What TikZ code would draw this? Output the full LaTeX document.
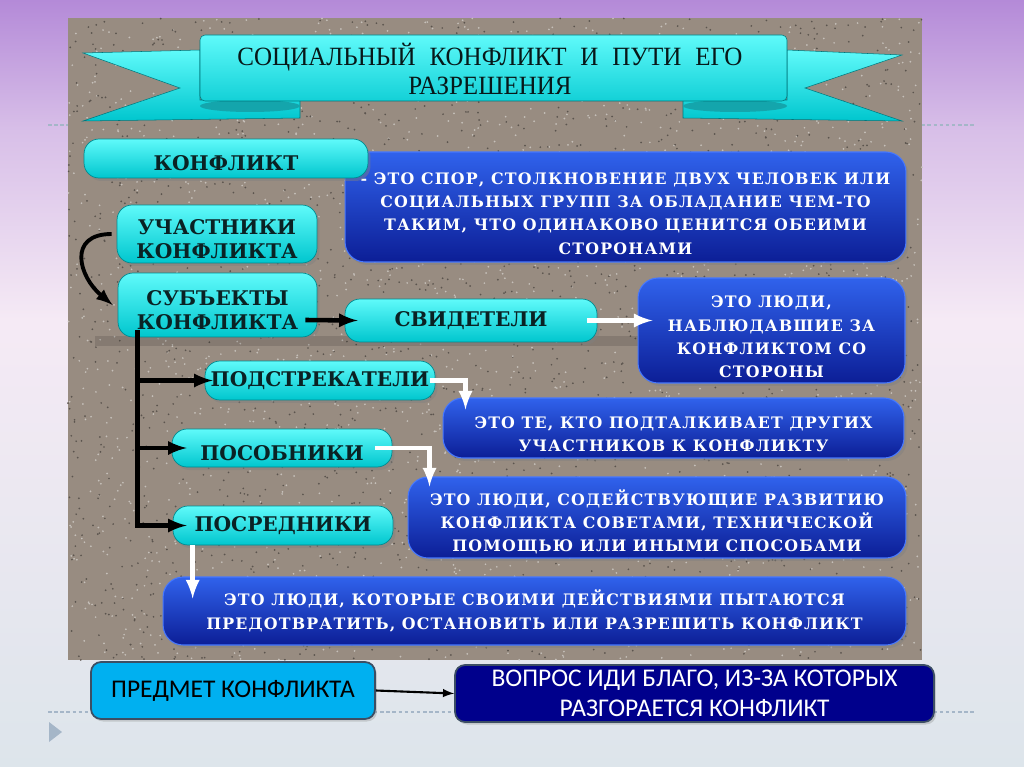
\documentclass[tikz,border=0pt]{standalone}
\usepackage{fontspec}
\setmainfont{DejaVu Serif}
\newfontfamily\boxfont[LetterSpace=7.5]{DejaVu Serif}
\newfontfamily\aquafont{DejaVu Serif}
\newfontfamily\titlefont[WordSpace=2.2, FakeStretch=0.95]{Liberation Serif}
\newfontfamily\slidefont{Carlito}
\usetikzlibrary{arrows, shadows, calc}

\definecolor{slidetop}{RGB}{180,138,216}
\definecolor{slidemid}{RGB}{245,234,245}
\definecolor{slidebot}{RGB}{221,229,235}
\definecolor{sand}{RGB}{152,140,129}
\definecolor{aquatop}{RGB}{95,250,250}
\definecolor{aquabot}{RGB}{0,198,206}
\definecolor{aquaink}{RGB}{10,34,36}
\definecolor{foldteal}{RGB}{20,165,172}
\definecolor{royaltop}{RGB}{48,98,236}
\definecolor{royalbot}{RGB}{12,30,150}
\definecolor{royalrim}{RGB}{70,120,255}
\definecolor{skybox}{RGB}{0,176,240}
\definecolor{navybox}{RGB}{0,0,140}
\definecolor{boxrim}{RGB}{60,78,100}
\definecolor{dashgray}{RGB}{165,182,200}

\newcommand{\facestrut}{\rule{0pt}{14pt}}

\tikzset{
  aqua/.style={rounded corners=0.3cm, top color=aquatop, bottom color=aquabot,
    draw=aquabot!70!black, line width=0.4pt, text=aquaink, inner sep=0pt, align=center,
    font=\aquafont\bfseries\fontsize{11.5}{13.5}\selectfont,
    drop shadow={shadow xshift=0.05cm, shadow yshift=-0.06cm, opacity=0.45}},
  royal/.style={rounded corners=0.4cm, top color=royaltop, bottom color=royalbot,
    draw=royalrim, line width=0.6pt, text=white, inner sep=0pt, align=center,
    font=\boxfont\bfseries\fontsize{9}{13.3}\selectfont,
    drop shadow={shadow xshift=0.05cm, shadow yshift=-0.06cm, opacity=0.45}},
  plainbox/.style={rounded corners=0.2cm, draw=boxrim, line width=1pt, inner sep=0pt,
    align=center, font=\slidefont\fontsize{14.5}{17}\selectfont,
    drop shadow={shadow xshift=0.04cm, shadow yshift=-0.05cm, opacity=0.3}},
  blackline/.style={line width=2.8pt, black},
  blackarrow/.style={-latex, line width=2.6pt, black},
  whitearrow/.style={-latex, line width=2.6pt, white},
}

\begin{document}
\begin{tikzpicture}[x=0.02cm, y=-0.02cm]
  \useasboundingbox (0,0) rectangle (1024,767);
  \shade[top color=slidetop, bottom color=slidetop!45!slidemid] (0,0) rectangle (1024,130);
  \shade[top color=slidetop!45!slidemid, bottom color=slidemid] (0,130) rectangle (1024,320);
  \shade[top color=slidemid, bottom color=slidebot] (0,320) rectangle (1024,767);
  \draw[dashgray, dash pattern=on 2pt off 1.5pt, line width=0.6pt] (48,125) -- (975,125);
  \draw[dashgray, dash pattern=on 2pt off 1.5pt, line width=0.6pt] (48,712) -- (975,712);
  \fill[dashgray] (49,722) -- (62,732) -- (49,742) -- cycle;

  \fill[sand] (68,18) rectangle (922,660);
  \pgfmathsetseed{12}
  \foreach \i in {1,...,2000} {
    \fill[sand!55!white] (68+rnd*854, 18+rnd*642) circle (0.55pt);
    \fill[sand!60!black] (68+rnd*854, 18+rnd*642) circle (0.55pt);
  }
  \fill[black, opacity=0.12] (95,336) rectangle (640,346);

  \shade[top color=aquatop, bottom color=aquabot, draw=aquabot!60!black, line width=0.3pt]
    (83,53) -- (200,50) -- (200,100) -- (300,100) -- (300,118) -- (83,121) -- (180,88) -- cycle;
  \shade[top color=aquatop, bottom color=aquabot, draw=aquabot!60!black, line width=0.3pt]
    (902,55) -- (787,50) -- (787,100) -- (683,100) -- (683,118) -- (902,121) -- (805,88) -- cycle;
  \fill[foldteal] (250,106) ellipse [x radius=50, y radius=6];
  \fill[foldteal] (735,106) ellipse [x radius=52, y radius=6];
  \shade[top color=aquatop, bottom color=aquabot!80!aquatop, draw=aquabot!60!black, line width=0.3pt,
    rounded corners=0.1cm] (200,35) rectangle (787,101);
  \node[font=\titlefont\fontsize{15}{16}\selectfont, text=aquaink!70!black, align=center]
    (title) at (490,69) {СОЦИАЛЬНЫЙ КОНФЛИКТ И ПУТИ ЕГО\\РАЗРЕШЕНИЯ};

  \node[royal, minimum width=11.22cm, minimum height=2.2cm] (defkonf) at (625.5,207)
    {\facestrut- ЭТО СПОР, СТОЛКНОВЕНИЕ ДВУХ ЧЕЛОВЕК ИЛИ\\СОЦИАЛЬНЫХ ГРУПП ЗА ОБЛАДАНИЕ ЧЕМ-ТО\\ТАКИМ, ЧТО ОДИНАКОВО ЦЕНИТСЯ ОБЕИМИ\\СТОРОНАМИ};
  \node[royal, minimum width=5.34cm, minimum height=2.1cm] (svidDef) at (771.5,330.5)
    {\facestrut ЭТО ЛЮДИ,\\НАБЛЮДАВШИЕ ЗА\\КОНФЛИКТОМ СО\\СТОРОНЫ};
  \node[royal, minimum width=9.22cm, minimum height=1.2cm] (podstrDef) at (673.5,428)
    {\facestrut ЭТО ТЕ, КТО ПОДТАЛКИВАЕТ ДРУГИХ\\УЧАСТНИКОВ К КОНФЛИКТУ};
  \node[royal, minimum width=9.96cm, minimum height=1.62cm] (posobDef) at (657,517.5)
    {\facestrut ЭТО ЛЮДИ, СОДЕЙСТВУЮЩИЕ РАЗВИТИЮ\\КОНФЛИКТА СОВЕТАМИ, ТЕХНИЧЕСКОЙ\\ПОМОЩЬЮ ИЛИ ИНЫМИ СПОСОБАМИ};
  \node[royal, minimum width=14.86cm, minimum height=1.36cm] (posrDef) at (534.5,611)
    {ЭТО ЛЮДИ, КОТОРЫЕ СВОИМИ ДЕЙСТВИЯМИ ПЫТАЮТСЯ\\ПРЕДОТВРАТИТЬ, ОСТАНОВИТЬ ИЛИ РАЗРЕШИТЬ КОНФЛИКТ};

  \node[aqua, minimum width=5.68cm, minimum height=0.78cm] (konf) at (226,158.5) {\facestrut КОНФЛИКТ};
  \node[aqua, minimum width=4cm, minimum height=1.16cm] (uchast) at (217,234) {\facestrut УЧАСТНИКИ\\КОНФЛИКТА};
  \node[aqua, minimum width=3.98cm, minimum height=1.28cm] (subj) at (217.5,305) {\facestrut СУБЪЕКТЫ\\КОНФЛИКТА};
  \node[aqua, minimum width=5.04cm, minimum height=0.86cm] (svid) at (471,320.5) {СВИДЕТЕЛИ};
  \node[aqua, minimum width=4.6cm, minimum height=0.78cm] (podstr) at (320,380.5) {ПОДСТРЕКАТЕЛИ};
  \node[aqua, minimum width=4.4cm, minimum height=0.76cm] (posob) at (282,448) {\facestrut ПОСОБНИКИ};
  \node[aqua, minimum width=4.4cm, minimum height=0.78cm] (posr) at (283,525.5) {ПОСРЕДНИКИ};

  \node[plainbox, fill=skybox, text=black, minimum width=5.68cm, minimum height=1.14cm]
    (predmet) at (233,690.5) {ПРЕДМЕТ КОНФЛИКТА};
  \node[plainbox, fill=navybox, text=white, minimum width=9.58cm, minimum height=1.14cm]
    (predmetDef) at (694.5,693.5) {ВОПРОС ИДИ БЛАГО, ИЗ-ЗА КОТОРЫХ\\РАЗГОРАЕТСЯ КОНФЛИКТ};

  \draw[blackarrow, line width=2.2pt] ([xshift=-0.1cm]uchast.west) to[out=180, in=140, looseness=1.6] ([xshift=-0.1cm]subj.west);
  \draw[blackarrow] ([xshift=-0.24cm, yshift=-0.3cm]subj.east) -- ([xshift=0.26cm]svid.west);
  \coordinate (trunk) at ([xshift=-1.6cm, yshift=0.14cm]subj.south);
  \draw[blackline] (trunk) -- ([yshift=-0.05cm]trunk |- posr.west);
  \draw[blackarrow] (trunk |- podstr.west) -- ([xshift=0.16cm]podstr.west);
  \draw[blackarrow] (trunk |- posob.west) -- ([xshift=0.3cm]posob.west);
  \draw[blackarrow] (trunk |- posr.west) -- ([xshift=0.28cm]posr.west);

  \draw[whitearrow] ([xshift=-0.2cm]svid.east) -- ([xshift=0.3cm]svid.east -| svidDef.west);
  \draw[whitearrow] ([xshift=-0.1cm]podstr.east) -| ([xshift=0.46cm, yshift=-0.24cm]podstrDef.north west);
  \draw[whitearrow] ([xshift=-0.34cm]posob.east) -| ([xshift=0.44cm, yshift=-0.2cm]posobDef.north west);
  \coordinate (posrdrop) at ([xshift=0.4cm]posr.south west);
  \draw[whitearrow] (posrdrop) -- ([yshift=-0.44cm]posrdrop |- posrDef.north);

  \draw[-latex, line width=1.2pt] (predmet.east) -- (predmetDef.west);
\end{tikzpicture}
\end{document}
